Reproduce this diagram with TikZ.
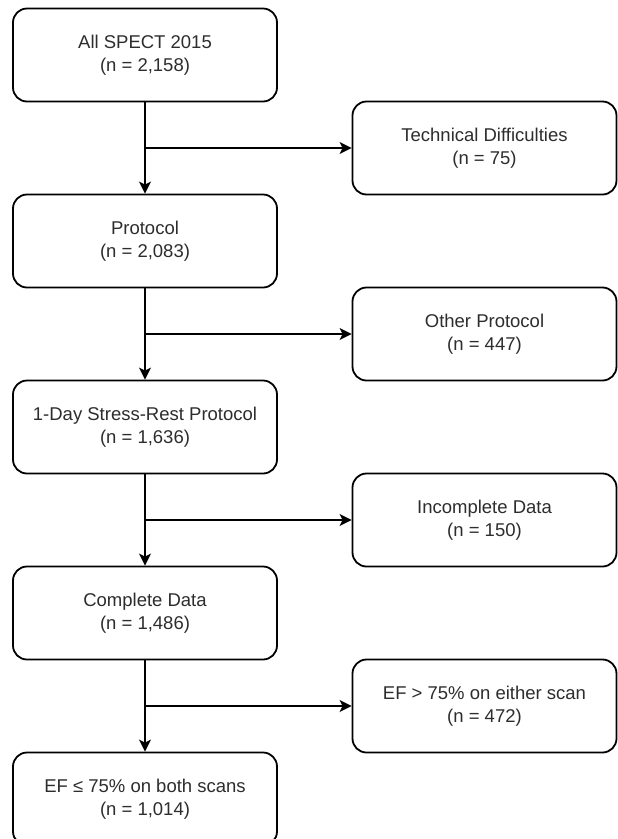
\documentclass[tikz,border=0pt]{standalone}
\usepackage{fontspec}
\setmainfont{Liberation Sans}
\usetikzlibrary{arrows.meta}
\definecolor{textgray}{RGB}{45,45,45}
\begin{document}
\begin{tikzpicture}[x=1pt,y=-1pt,
  box/.style={draw=black, line width=1.8pt, rounded corners=14pt,
    minimum width=264pt, minimum height=93pt, align=center,
    text=textgray, font=\fontsize{18.5}{22.5}\selectfont, inner sep=0pt},
  flow/.style={draw=black, line width=1.8pt,
    -{Stealth[length=12pt,width=12pt,inset=3pt]}},
  trunk/.style={draw=black, line width=1.8pt}]
\useasboundingbox (0,0) rectangle (618,839);
\fill[white] (0,0) rectangle (618,839);
\node[box] (L1) at (145,55) {All SPECT 2015\\(n = 2,158)};
\node[box] (L2) at (145,241) {Protocol\\(n = 2,083)};
\node[box] (L3) at (145,427) {1-Day Stress-Rest Protocol\\(n = 1,636)};
\node[box] (L4) at (145,613) {Complete Data\\(n = 1,486)};
\node[box] (L5) at (145,799) {EF \char"2264{} 75\% on both scans\\(n = 1,014)};
\node[box] (R1) at (484.5,148) {Technical Difficulties\\(n = 75)};
\node[box] (R2) at (484.5,334) {Other Protocol\\(n = 447)};
\node[box] (R3) at (484.5,520) {Incomplete Data\\(n = 150)};
\node[box] (R4) at (484.5,706) {EF > 75\% on either scan\\(n = 472)};
\draw[flow] (L1) -- (L2);
\draw[flow] (L2) -- (L3);
\draw[flow] (L3) -- (L4);
\draw[flow] (L4) -- (L5);
\draw[flow] (L1.south |- R1.west) -- (R1.west);
\draw[flow] (L2.south |- R2.west) -- (R2.west);
\draw[flow] (L3.south |- R3.west) -- (R3.west);
\draw[flow] (L4.south |- R4.west) -- (R4.west);
\end{tikzpicture}
\end{document}
